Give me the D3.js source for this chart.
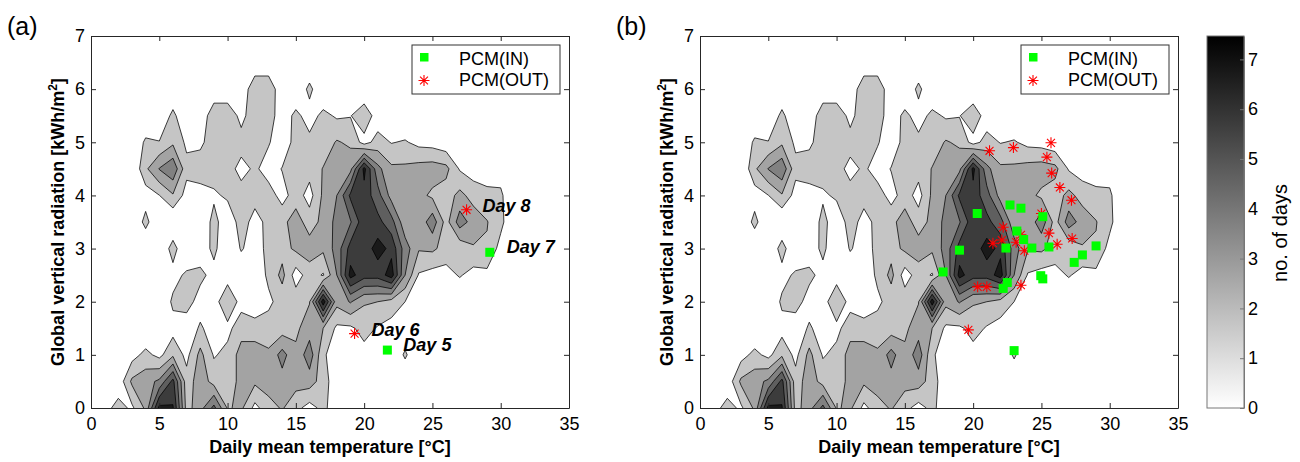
<!DOCTYPE html>
<html>
<head>
<meta charset="utf-8">
<script src="https://cdn.jsdelivr.net/npm/d3@7"></script>
<style>
  body { margin: 0; background: #fff; }
  svg text { font-family: Arial, "Liberation Sans", sans-serif; fill: #000; }
</style>
</head>
<body>
<svg id="chart" width="1300" height="462"></svg>
<script>
// Grid of the day-count surface: temperature columns 0..35 °C (step 1),
// radiation rows 0..7 kWh/m² (step 0.5).
const tempStep = 1;
const radStep = 0.5;
const gridTemps = d3.range(0, 36, tempStep);
const gridRads = d3.range(0, 7.01, radStep);

// Number of days per (temperature, radiation) cell, one row per radiation value.
const daysGrid = [
  /* 0.0 */ [0,0.6,1.4,0.8,2.2,6.3,6.1,1.6,2.6,4.3,1.9,2.2,0.7,1.6,2.1,1.3,0.6,1.3,0.3,0,0,0,0,0,0,0,0,0,0,0,0,0,0,0,0,0],
  /* 0.5 */ [0,0,0.3,2.2,2.6,3.2,5.3,1.4,2.6,1.6,1.3,2.4,2.2,2.5,2.6,2.4,2.5,1.5,0.3,0,0,0,0,0,0,0,0,0,0,0,0,0,0,0,0,0],
  /* 1.0 */ [0,0,0,0.6,1.3,0.7,1.8,0.7,2.3,0.9,1.3,2.4,2.5,2.2,3.4,2.2,3.6,1.2,0.3,0,0.6,0,0,1.18,0,0,0,0,0,0,0,0,0,0,0,0],
  /* 1.5 */ [0,0,0,0,0,0,0.6,0.3,1.15,0.5,0.7,1.6,1.5,1.4,1.5,1.8,2.5,2.0,0.8,0.8,1.4,0.9,0.6,0.2,0,0,0,0,0,0,0,0,0,0,0,0],
  /* 2.0 */ [0,0,0,0,0,0,1.2,1.5,0.5,0.5,1.9,0.6,0.2,0.8,1.4,1.6,1.95,6.6,2.3,3.1,2.1,2.0,1.6,1.0,0.4,0,0,0,0,0,0,0,0,0,0,0],
  /* 2.5 */ [0,0,0,0,0,0,0.6,1.2,1.3,0.6,0.5,0.2,0.3,1.2,2.3,0.5,1.5,0.9,3.0,6.35,5.4,5.4,6.5,3.0,0.9,0.6,0.6,1.1,0.6,0.7,0,0,0,0,0,0],
  /* 3.0 */ [0,0,0,0,0,0,1.45,0,0.3,1.3,0,1.1,0.5,1.3,1.6,2.2,2.5,2.2,3.4,5.4,5.4,6.45,5.7,3.5,2.1,2.2,1.6,1.3,1.9,1.9,0.6,0,0,0,0,0],
  /* 3.5 */ [0,0,0,0,1.33,0,0,0,0,1.4,0.2,1.5,0.6,1.3,1.7,2.5,1.5,2.3,3.3,3.9,5.7,5.3,4.4,2.3,2.3,3.6,1.6,3.5,2.6,2.05,1.3,0,0,0,0,0],
  /* 4.0 */ [0,0,0,0,0.5,0.98,1.9,0.6,0.6,0.8,1.2,1.5,1.4,1.5,0.6,1.5,0.6,2.2,3.0,5.2,5.6,4.4,2.6,2.0,2.3,1.8,1.5,2.3,1.6,1.3,1.2,0,0,0,0,0],
  /* 4.5 */ [0,0,0,0,1.8,3.05,3.8,1.3,1.5,1.6,1.5,0.6,1.2,0.5,1.05,1.5,1.4,2.05,2.3,2.7,6.3,3.3,2.2,2.2,2.4,2.5,2.3,0.9,0.5,0.4,0.5,0,0,0,0,0],
  /* 5.0 */ [0,0,0,0,1.2,1.05,1.8,0.8,0.8,1.5,1.5,1.5,1.5,1.1,0.3,1.4,1.3,1.4,2.1,1.8,0.6,1.4,0.95,1.1,0.7,0.6,0.3,0,0,0,0,0,0,0,0,0],
  /* 5.5 */ [0,0,0,0,0,0,1.3,0,0,1.9,1.9,0.6,1.8,1.6,0.3,1.3,0.5,1.3,0.85,0.95,1.8,0.4,0,0,0,0,0,0,0,0,0,0,0,0,0,0],
  /* 6.0 */ [0,0,0,0,0,0,0,0,0,0,0,0,1.98,1.98,0,0,1.3,0,0,0,0,0,0,0,0,0,0,0,0,0,0,0,0,0,0,0],
  /* 6.5 */ [0,0,0,0,0,0,0,0,0,0,0,0,0,0,0,0,0,0,0,0,0,0,0,0,0,0,0,0,0,0,0,0,0,0,0,0],
  /* 7.0 */ [0,0,0,0,0,0,0,0,0,0,0,0,0,0,0,0,0,0,0,0,0,0,0,0,0,0,0,0,0,0,0,0,0,0,0,0]
];

const contourLevels = [1, 2, 3, 4, 5, 6, 7];
const colorMax = 7.47;

const xTicks = [0, 5, 10, 15, 20, 25, 30, 35];
const yTicks = [0, 1, 2, 3, 4, 5, 6, 7];
const colorTicks = [0, 1, 2, 3, 4, 5, 6, 7];

// Panel (a): selected days
const inTempA = [21.7, 29.2];
const inRadA = [1.09, 2.93];
const outTempA = [19.3, 27.5];
const outRadA = [1.40, 3.73];
const dayNames = ["Day 5", "Day 7", "Day 6", "Day 8"];

// Panel (b): all PCM days
const inTempB = [17.8, 19.0, 20.3, 22.2, 22.5, 22.4, 22.7, 23.0, 23.2, 23.5, 23.7, 24.3, 24.95, 25.1, 25.1, 25.55, 27.4, 28.0, 29.0];
const inRadB  = [2.56, 2.97, 3.66, 2.25, 2.36, 3.01, 3.82, 1.08, 3.33, 3.76, 3.17, 3.01, 2.49, 2.43, 3.60, 3.03, 2.74, 2.88, 3.05];
const outTempB = [19.65, 20.33, 21.0, 21.2, 21.45, 22.1, 22.2, 22.95, 23.15, 23.5, 23.5, 23.75, 25.0, 25.4, 25.55, 25.7, 25.75, 26.15, 26.35, 27.2, 27.25];
const outRadB  = [1.47, 2.28, 2.28, 4.84, 3.10, 3.16, 3.40, 4.90, 3.12, 3.26, 2.31, 2.96, 3.66, 4.72, 3.29, 4.99, 4.42, 3.08, 4.15, 3.91, 3.19];

const svg = d3.select("#chart");
const plotW = 478, plotTop = 36, plotBottom = 408;
const nx = gridTemps.length, ny = gridRads.length;
const flatDays = daysGrid.flat();

const grey = d3.scaleLinear().domain([0, colorMax]).range(["#ffffff", "#000000"]).clamp(true);
const bandColor = v => grey(v + 0.7);

const contours = d3.contours().size([nx, ny]).thresholds(contourLevels)(flatDays);

function starPath(cx, cy, r) {
  const d = r * 0.72;
  return `M${cx - r},${cy}L${cx + r},${cy}M${cx},${cy - r}L${cx},${cy + r}` +
         `M${cx - d},${cy - d}L${cx + d},${cy + d}M${cx - d},${cy + d}L${cx + d},${cy - d}`;
}

const panels = [
  { id: "a", left: 91, label: "(a)", labelX: 7, inT: inTempA, inR: inRadA, outT: outTempA, outR: outRadA, legendX: 412, ylabX: 64 },
  { id: "b", left: 700, label: "(b)", labelX: 616, inT: inTempB, inR: inRadB, outT: outTempB, outR: outRadB, legendX: 1021, ylabX: 673 }
];

const defs = svg.append("defs");

panels.forEach(p => {
  const x = d3.scaleLinear().domain([0, 35]).range([p.left, p.left + plotW]);
  const y = d3.scaleLinear().domain([0, 7]).range([plotBottom, plotTop]);
  const g = svg.append("g");

  defs.append("clipPath").attr("id", "clip-" + p.id)
    .append("rect").attr("x", p.left).attr("y", plotTop).attr("width", plotW).attr("height", plotBottom - plotTop);

  const proj = d3.geoTransform({
    point(px, py) {
      this.stream.point(x(gridTemps[0] + (px - 0.5) * tempStep), y(gridRads[0] + (py - 0.5) * radStep));
    }
  });
  const path = d3.geoPath(proj);

  g.append("rect").attr("x", p.left).attr("y", plotTop).attr("width", plotW).attr("height", plotBottom - plotTop).attr("fill", "#fff");

  g.append("g").attr("clip-path", `url(#clip-${p.id})`)
    .selectAll("path").data(contours).join("path")
    .attr("d", path)
    .attr("fill", d => bandColor(d.value))
    .attr("stroke", "#000")
    .attr("stroke-width", 0.75)
    .attr("stroke-linejoin", "round");

  // axes with inward ticks on all four sides
  const styleAxis = sel => {
    sel.attr("font-family", null).attr("font-size", null);
    sel.selectAll("text").style("font-size", "18px");
    sel.selectAll("path.domain").attr("stroke", "#262626");
    sel.selectAll(".tick line").attr("stroke", "#262626");
  };
  const fmt = d3.format("d");
  g.append("g").attr("transform", `translate(0,${plotBottom})`)
    .call(d3.axisBottom(x).tickValues(xTicks).tickFormat(fmt).tickSizeInner(-5).tickSizeOuter(0).tickPadding(9)).call(styleAxis);
  g.append("g").attr("transform", `translate(0,${plotTop})`)
    .call(d3.axisTop(x).tickValues(xTicks).tickSizeInner(-5).tickSizeOuter(0).tickFormat("")).call(styleAxis);
  g.append("g").attr("transform", `translate(${p.left},0)`)
    .call(d3.axisLeft(y).tickValues(yTicks).tickFormat(fmt).tickSizeInner(-5).tickSizeOuter(0).tickPadding(6)).call(styleAxis);
  g.append("g").attr("transform", `translate(${p.left + plotW},0)`)
    .call(d3.axisRight(y).tickValues(yTicks).tickSizeInner(-5).tickSizeOuter(0).tickFormat("")).call(styleAxis);

  // markers
  g.append("g").selectAll("path").data(p.outT.map((t, i) => [t, p.outR[i]])).join("path")
    .attr("d", d => starPath(x(d[0]), y(d[1]), 5.5))
    .attr("stroke", "#ff0000").attr("stroke-width", 1.1).attr("fill", "none");
  g.append("g").selectAll("rect").data(p.inT.map((t, i) => [t, p.inR[i]])).join("rect")
    .attr("x", d => x(d[0]) - 4.5).attr("y", d => y(d[1]) - 4.5)
    .attr("width", 9).attr("height", 9).attr("fill", "#00ff00");

  // legend
  const lg = g.append("g");
  lg.append("rect").attr("x", p.legendX).attr("y", 45).attr("width", 148).attr("height", 49)
    .attr("fill", "#fff").attr("stroke", "#333").attr("stroke-width", 1);
  lg.append("rect").attr("x", p.legendX + 8).attr("y", 53).attr("width", 8.5).attr("height", 8.5).attr("fill", "#00ff00");
  lg.append("path").attr("d", starPath(p.legendX + 12, 80.5, 5.5)).attr("stroke", "#ff0000").attr("stroke-width", 1.1).attr("fill", "none");
  lg.append("text").attr("x", p.legendX + 47).attr("y", 65).style("font-size", "18px").text("PCM(IN)");
  lg.append("text").attr("x", p.legendX + 47).attr("y", 86).style("font-size", "18px").text("PCM(OUT)");

  // axis titles
  g.append("text").attr("x", p.left + plotW / 2).attr("y", 453).attr("text-anchor", "middle")
    .style("font-size", "18px").style("font-weight", "bold").text("Daily mean temperature [°C]");
  const yl = g.append("text").attr("transform", `translate(${p.ylabX},222) rotate(-90)`).attr("text-anchor", "middle")
    .style("font-size", "18px").style("font-weight", "bold");
  yl.append("tspan").text("Global vertical radiation [kWh/m");
  yl.append("tspan").attr("dy", -7).style("font-size", "12px").text("2");
  yl.append("tspan").attr("dy", 7).text("]");

  g.append("text").attr("x", p.labelX).attr("y", 35).style("font-size", "25px").text(p.label);
});

// day annotations in panel (a)
const xa = d3.scaleLinear().domain([0, 35]).range([91, 91 + plotW]);
const ya = d3.scaleLinear().domain([0, 7]).range([plotBottom, plotTop]);
const dayAnchors = [
  [inTempA[0], inRadA[0], 16, 1], [inTempA[1], inRadA[1], 17, 1],
  [outTempA[0], outRadA[0], 17, 2], [outTempA[1], outRadA[1], 16, 2]
];
svg.append("g").selectAll("text").data(dayAnchors).join("text")
  .attr("x", d => xa(d[0]) + d[2]).attr("y", d => ya(d[1]) + d[3])
  .style("font-size", "18px").style("font-weight", "bold").style("font-style", "italic")
  .text((d, i) => dayNames[i]);

// colour bar
const cbX = 1207, cbW = 37;
const cy = d3.scaleLinear().domain([0, colorMax]).range([plotBottom, plotTop]);
const grad = defs.append("linearGradient").attr("id", "cbGrad").attr("x1", 0).attr("y1", 1).attr("x2", 0).attr("y2", 0);
grad.append("stop").attr("offset", 0).attr("stop-color", grey(0));
grad.append("stop").attr("offset", 1).attr("stop-color", grey(colorMax));
svg.append("rect").attr("x", cbX).attr("y", plotTop).attr("width", cbW).attr("height", plotBottom - plotTop)
  .attr("fill", "url(#cbGrad)").attr("stroke", "#777").attr("stroke-width", 1);
const cbAxis = svg.append("g").attr("transform", `translate(${cbX + cbW},0)`)
  .call(d3.axisRight(cy).tickValues(colorTicks).tickFormat(d3.format("d")).tickSizeInner(-4).tickSizeOuter(0).tickPadding(4));
cbAxis.attr("font-family", null).attr("font-size", null);
cbAxis.selectAll("text").style("font-size", "18px");
cbAxis.select("path.domain").attr("stroke", "#777");
cbAxis.selectAll(".tick line").attr("stroke", "#777");
svg.append("text").attr("transform", "translate(1287,233) rotate(-90)").attr("text-anchor", "middle")
  .style("font-size", "20px").text("no. of days");
</script>
</body>
</html>
